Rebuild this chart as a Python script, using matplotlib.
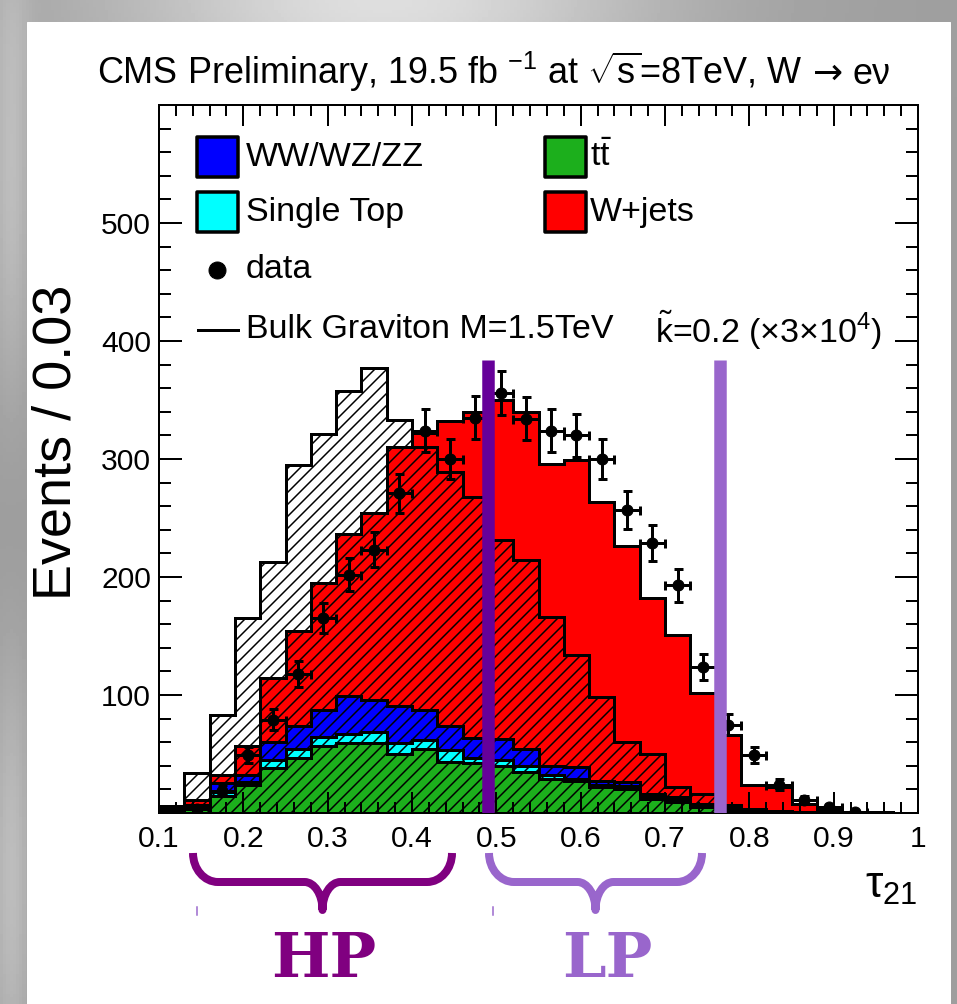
import numpy as np
import matplotlib
matplotlib.use("Agg")
import matplotlib.pyplot as plt
from matplotlib.patches import Rectangle, PathPatch
from matplotlib.path import Path

plt.rcParams['font.family'] = ['Liberation Sans', 'DejaVu Sans']
plt.rcParams['mathtext.fontset'] = 'custom'
plt.rcParams['mathtext.rm'] = 'Liberation Sans'
plt.rcParams['mathtext.it'] = 'Liberation Sans:italic'
plt.rcParams['mathtext.bf'] = 'Liberation Sans:bold'
plt.rcParams['hatch.linewidth'] = 1.5
plt.rcParams['hatch.color'] = 'black'

# ---------------- data (events per 0.03 bin of tau21) ----------------
bin_edges = np.round(np.linspace(0.10, 1.00, 31), 2)
ttbar = np.array([2, 3, 14, 23.5, 38, 46.5, 57, 59, 59, 50, 54, 43, 42.5, 40, 34.5,
                  29, 27.5, 22, 20, 12, 9, 5, 2.5, 1, 0.5, 0.3, 0.1, 0, 0, 0])
single_top = np.array([1, 1, 4, 3, 6.5, 8, 7.5, 8, 10, 9, 8, 10, 4, 4.5, 5.5,
                       3, 1.5, 2, 3, 2.5, 2.5, 1.5, 1, 0.5, 0.3, 0.2, 0.1, 0, 0, 0])
diboson = np.array([1, 3, 7.5, 6, 15.5, 19.5, 22.5, 32.5, 27, 32, 25, 21, 17, 18, 14.5,
                    8, 10, 3.5, 3.5, 2, 2, 1.5, 1.5, 1, 0.7, 0.5, 0.3, 0.2, 0, 0])
wjets = np.array([2, 4, 6.5, 24, 54, 80, 108, 137, 158, 219, 235, 258, 276.5, 287.5, 285.5,
                  256, 260, 236, 200, 165.5, 137.5, 94, 61, 21.5, 20.5, 7, 2.5, 0.8, 0.5, 0])
signal = np.array([6, 34, 83, 165, 213, 295, 321, 358, 377, 333, 310, 289, 268, 231, 214,
                   166, 134, 98, 60, 50, 22, 16, 7, 3, 1, 0, 0, 0, 0, 0])
data = np.array([1, 3, 19, 49, 79, 118, 165, 202, 223, 271, 324, 300, 335, 356, 334,
                 324, 320, 300, 257, 229, 193, 124, 75, 49, 24, 11, 5, 1, 0, 0])
hp_cut = 0.49
lp_cut = 0.765
cut_top = 384

x_ticks = [0.1, 0.2, 0.3, 0.4, 0.5, 0.6, 0.7, 0.8, 0.9, 1.0]
x_ticklabels = ['0.1', '0.2', '0.3', '0.4', '0.5', '0.6', '0.7', '0.8', '0.9', '1']
y_ticks = [100, 200, 300, 400, 500]

c_tt = '#1caf1c'
c_st = '#00ffff'
c_vv = '#0000ff'
c_wj = '#ff0000'
c_hp = '#800080'
c_lp = '#9966cc'
c_hpline = '#660099'

W, H = 957, 1004
fig = plt.figure(figsize=(W / 72, H / 72), dpi=72)


def X(px):
    return px / W


def Y(py):
    return 1 - py / H


# ---------------- background ----------------
bg = fig.add_axes([0, 0, 1, 1], zorder=-5)
bg.set_axis_off()
yy, xx = np.mgrid[0:1:300j, 0:1:300j]
img = (0.62 + 0.25 * np.exp(-((xx - 0.4) ** 2) / 0.08 - (yy ** 2) / 0.01)
       + 0.12 * np.exp(-((xx - 0.01) ** 2) / 0.0004) * (0.5 + 0.5 * np.sin(yy * 9)))
bg.imshow(img, cmap='gray', vmin=0, vmax=1, extent=[0, 1, 0, 1], aspect='auto')
bg.add_patch(Rectangle((X(27), 0), X(950) - X(27), Y(22), color='white'))
bg.set_xlim(0, 1)
bg.set_ylim(0, 1)

# ---------------- main axes ----------------
ax = fig.add_axes([X(159), Y(813), X(918) - X(159), (813 - 105) / H])
ax.set_facecolor('white')

cum = np.zeros_like(ttbar, dtype=float)
tops = []
for vals, col in [(ttbar, c_tt), (single_top, c_st), (diboson, c_vv), (wjets, c_wj)]:
    top = cum + vals
    ax.stairs(top, bin_edges, baseline=cum, fill=True, facecolor=col, edgecolor='none',
              lw=0, zorder=1)
    tops.append(top)
    cum = top
for top in tops[::-1]:
    ax.stairs(top, bin_edges, baseline=0, fill=False, edgecolor='black', lw=3, zorder=1.5)

ax.stairs(signal, bin_edges, baseline=0, fill=True, facecolor='none', edgecolor='black',
          hatch='//', lw=3, zorder=3)

centers = 0.5 * (bin_edges[:-1] + bin_edges[1:])
m = data > 0
ax.errorbar(centers[m], data[m], yerr=np.sqrt(data[m]), xerr=0.015, fmt='o',
            color='black', ms=11, lw=3, capsize=4.5, capthick=3, zorder=5)

ax.vlines([hp_cut], 0, cut_top, colors=c_hpline, lw=12.5, zorder=6)
ax.vlines([lp_cut], 0, cut_top, colors=c_lp, lw=12.5, zorder=6)

ax.set_xlim(0.1, 1.0)
ax.set_ylim(0, 600)
ax.set_xticks(x_ticks)
ax.set_xticklabels(x_ticklabels)
ax.set_xticks(np.linspace(0.1, 1.0, 46), minor=True)
ax.set_yticks(y_ticks)
ax.set_yticks(np.arange(0, 601, 20), minor=True)
ax.tick_params(which='both', direction='in', top=True, right=True, width=2,
               labelsize=30, colors='black')
ax.xaxis.set_tick_params(which='major', length=21, pad=12)
ax.xaxis.set_tick_params(which='minor', length=11)
ax.yaxis.set_tick_params(which='major', length=23, pad=8)
ax.yaxis.set_tick_params(which='minor', length=12)
ax.xaxis.set_zorder(4)
ax.yaxis.set_zorder(4)
for s in ax.spines.values():
    s.set_linewidth(2)
    s.set_zorder(4)

# ---------------- title (pieces so the arrow gets a full-size glyph) ----------------
title_parts = [(r'CMS Preliminary, 19.5 fb $^{-1}$ at $\sqrt{\mathrm{s}}$=8TeV, W', 'Liberation Sans', 10),
               ('→', 'DejaVu Sans', 10),
               ('eν', 'Liberation Sans', 0)]
renderer = fig.canvas.get_renderer()
title_texts = []
widths = []
for s, fam, gap in title_parts:
    t = fig.text(0, Y(84), s, ha='left', va='baseline', fontsize=36, family=fam)
    title_texts.append(t)
    widths.append(t.get_window_extent(renderer).width + gap)
x0 = 494 - sum(widths) / 2
for t, w in zip(title_texts, widths):
    t.set_x(X(x0))
    x0 += w

fig.text(X(57), Y(285), 'Events / 0.03', rotation=90, ha='center', va='top', fontsize=54)
fig.text(X(918), Y(898), 'τ$_{21}$', ha='right', va='baseline', fontsize=44)

# ---------------- legend ----------------
leg_fs = 34
def box(x0, ycen, col):
    fig.add_artist(Rectangle((X(x0), Y(ycen + 20)), 41 / W, 40 / H, transform=fig.transFigure,
                             facecolor=col, edgecolor='black', lw=3.5, joinstyle='round'))

box(197, 157, c_vv)
fig.text(X(246), Y(157), 'WW/WZ/ZZ', va='center', fontsize=leg_fs)
box(545, 157, c_tt)
fig.text(X(590), Y(157), r'$\mathrm{t}\bar{\mathrm{t}}$', va='center', fontsize=leg_fs)
box(197, 212, c_st)
fig.text(X(246), Y(212), 'Single Top', va='center', fontsize=leg_fs)
box(545, 212, c_wj)
fig.text(X(590), Y(212), 'W+jets', va='center', fontsize=leg_fs)
fig.add_artist(plt.Line2D([X(217)], [Y(270)], marker='o', ms=17, color='black',
                          transform=fig.transFigure))
fig.text(X(246), Y(270), 'data', va='center', fontsize=leg_fs)
fig.add_artist(plt.Line2D([X(198), X(238)], [Y(330), Y(330)], lw=3, color='black',
                          transform=fig.transFigure))
fig.text(X(246), Y(330), 'Bulk Graviton M=1.5TeV', va='center', fontsize=leg_fs)
fig.text(X(655), Y(330), r'$\tilde{\mathrm{k}}$=0.2 (×3×10$^{4}$)', va='center',
         fontsize=leg_fs)


# ---------------- braces ----------------
def brace(L, R, top, mid, bot, rx, r2, col):
    T = 0.5 * (L + R)
    k = 0.5523
    ry = mid - top
    rb = bot - mid
    pts = [(L, top),
           (L, top + k * ry), (L + rx - k * rx, mid), (L + rx, mid),
           (T - r2, mid),
           (T - r2 + k * r2, mid), (T, bot - k * rb), (T, bot),
           (T, bot - k * rb), (T + r2 - k * r2, mid), (T + r2, mid),
           (R - rx, mid),
           (R - rx + k * rx, mid), (R, top + k * ry), (R, top)]
    codes = [Path.MOVETO] + [Path.CURVE4] * 3 + [Path.LINETO] + [Path.CURVE4] * 6 + \
            [Path.LINETO] + [Path.CURVE4] * 3
    verts = [(X(a), Y(b)) for a, b in pts]
    fig.add_artist(PathPatch(Path(verts, codes), transform=fig.transFigure, fill=False,
                             edgecolor=col, lw=8, capstyle='butt', joinstyle='round'))


brace(193, 452, 853, 882, 910, 25, 18, c_hp)
brace(489, 702, 853, 882, 910, 25, 18, c_lp)
for xm in (197, 493):
    fig.add_artist(plt.Line2D([X(xm), X(xm)], [Y(907), Y(915)], lw=1.5, color=c_lp,
                              transform=fig.transFigure))

fig.text(X(324), Y(977), 'HP', ha='center', va='baseline', fontsize=62,
         family='DejaVu Serif', weight='bold', color=c_hp)
fig.text(X(607), Y(977), 'LP', ha='center', va='baseline', fontsize=62,
         family='DejaVu Serif', weight='bold', color=c_lp)

fig.savefig('out.png', dpi=72)
